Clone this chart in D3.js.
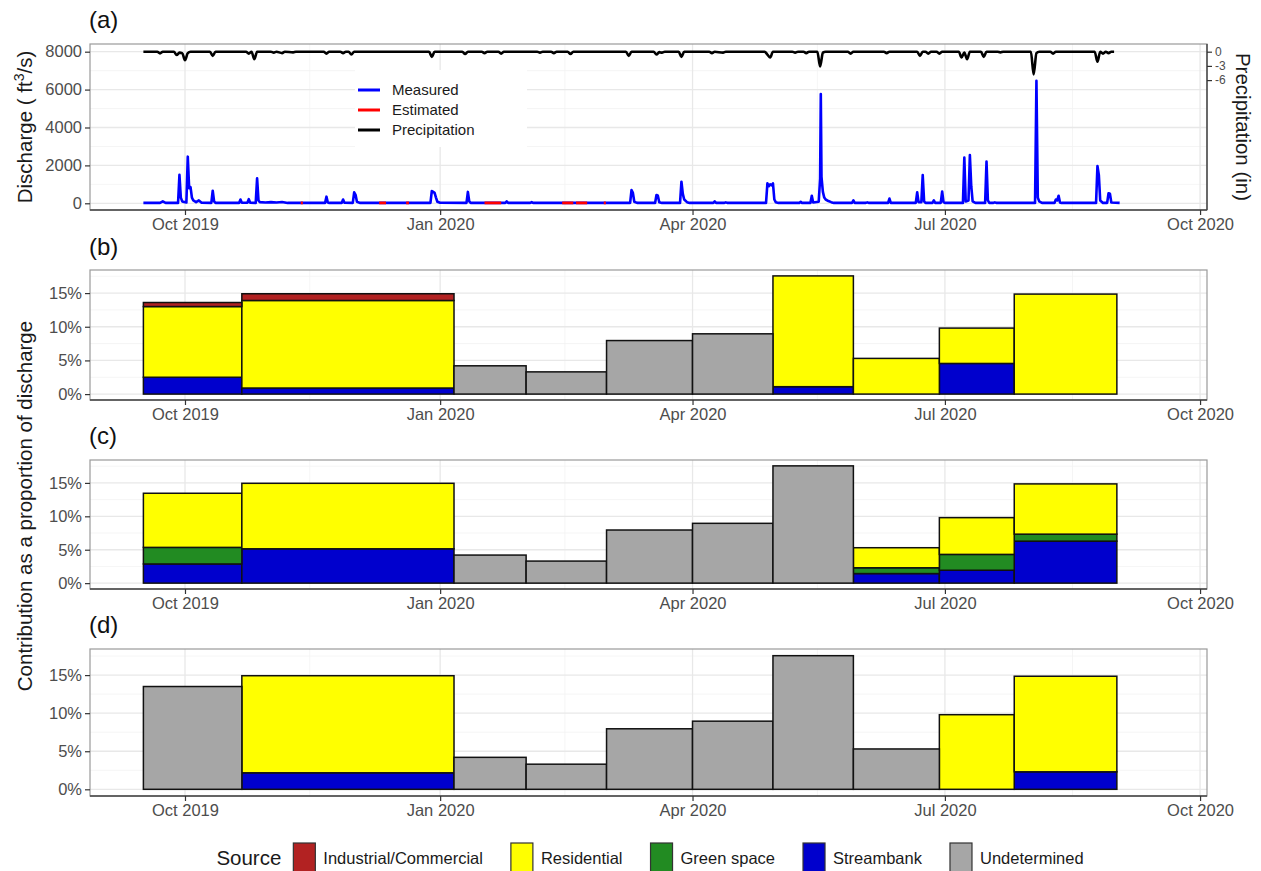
<!DOCTYPE html>
<html><head><meta charset="utf-8">
<script src="https://cdn.jsdelivr.net/npm/d3@7"></script>
<style>body{margin:0;background:#fff}svg{display:block;font-family:"Liberation Sans",Arial,Helvetica,sans-serif}</style>
</head><body><svg id="chart" width="1261" height="871"></svg>
<script>
// ---------------- DATA ----------------
const xTickDates = ["2019-10-01","2020-01-01","2020-04-01","2020-07-01","2020-10-01"];
const xTickLabels = ["Oct 2019","Jan 2020","Apr 2020","Jul 2020","Oct 2020"];
const xMinorDates = ["2019-11-15","2020-02-15","2020-05-16","2020-08-16"];
const dischargeTicks = [0,2000,4000,6000,8000];
const precipTicks = [0,-3,-6];
const pctTicks = [0,5,10,15];
const seriesNames = ["Measured","Estimated","Precipitation"];
const seriesColors = ["#0000ff","#ff0000","#000000"];

// Discharge, measured (ft3/s): [date, value]
const dischargeMeasured = [
["2019-09-16",20],["2019-09-22",20],["2019-09-23",100],["2019-09-24",20],
["2019-09-28 12",20],["2019-09-29",1500],["2019-09-29 12",300],["2019-09-30",100],["2019-10-01 12",40],
["2019-10-02",2460],["2019-10-02 12",800],["2019-10-03",850],["2019-10-03 12",300],["2019-10-04",150],
["2019-10-05",60],["2019-10-06",150],["2019-10-07",30],
["2019-10-10 12",20],["2019-10-11",665],["2019-10-11 12",100],["2019-10-12",20],
["2019-10-20 12",20],["2019-10-21",200],["2019-10-21 12",30],["2019-10-23 12",30],["2019-10-24",220],["2019-10-24 12",30],
["2019-10-26 12",20],["2019-10-27",1320],["2019-10-27 12",150],["2019-10-28",60],["2019-10-30",40],["2019-11-01",60],
["2019-11-03",40],["2019-11-05",70],["2019-11-07",20],
["2019-11-20 12",20],["2019-11-21",350],["2019-11-21 12",40],["2019-11-22",20],
["2019-11-26 12",20],["2019-11-27",200],["2019-11-27 12",30],["2019-11-30 12",20],["2019-12-01",580],["2019-12-01 12",450],
["2019-12-02",80],["2019-12-03",20],
["2019-12-28 12",20],["2019-12-29",650],["2019-12-29 12",600],["2019-12-30",550],["2019-12-30 12",300],["2019-12-31",80],["2020-01-01",30],
["2020-01-10 12",20],["2020-01-11",600],["2020-01-11 12",100],["2020-01-12",20],
["2020-01-24 12",20],["2020-01-25",100],["2020-01-25 12",20],
["2020-02-02 12",20],["2020-02-03",60],["2020-02-03 12",20],
["2020-03-09 12",20],["2020-03-10",700],["2020-03-10 12",550],["2020-03-11",80],["2020-03-12",20],
["2020-03-18 12",20],["2020-03-19",440],["2020-03-19 12",400],["2020-03-20",60],["2020-03-21",20],
["2020-03-27 12",20],["2020-03-28",1140],["2020-03-28 12",500],["2020-03-29",200],["2020-03-30",60],["2020-03-31",20],
["2020-04-08 12",20],["2020-04-09",100],["2020-04-09 12",20],["2020-04-12 12",20],["2020-04-13",50],["2020-04-13 12",20],
["2020-04-27 12",20],["2020-04-28",1050],["2020-04-28 12",900],["2020-04-29",1000],["2020-04-29 12",950],["2020-04-30",1050],
["2020-04-30 12",200],["2020-05-01",60],["2020-05-02",20],
["2020-05-09 12",20],["2020-05-10",80],["2020-05-10 12",20],["2020-05-13 12",20],["2020-05-14",400],["2020-05-14 12",40],
["2020-05-16 12",80],["2020-05-17",1300],["2020-05-17 06",5770],["2020-05-17 12",1400],["2020-05-18",600],["2020-05-18 12",300],
["2020-05-19",200],["2020-05-20",120],["2020-05-21",60],["2020-05-22",20],
["2020-05-28 12",20],["2020-05-29",150],["2020-05-29 12",20],
["2020-06-02 12",20],["2020-06-03",50],["2020-06-03 12",20],
["2020-06-10 12",20],["2020-06-11",250],["2020-06-11 12",20],
["2020-06-20 12",20],["2020-06-21",580],["2020-06-21 12",60],["2020-06-22 12",60],["2020-06-23",1495],["2020-06-23 12",100],["2020-06-24",20],
["2020-06-26 12",20],["2020-06-27",150],["2020-06-27 12",20],["2020-06-29 12",20],["2020-06-30",620],["2020-06-30 12",60],["2020-07-01",20],
["2020-07-07 12",20],["2020-07-08",2410],["2020-07-08 12",100],["2020-07-09 12",150],["2020-07-10",2550],["2020-07-10 12",900],
["2020-07-11",100],["2020-07-12",20],
["2020-07-15 12",20],["2020-07-16",2200],["2020-07-16 12",150],["2020-07-17",20],
["2020-07-18 12",20],["2020-07-19",50],["2020-07-19 12",20],
["2020-08-02 12",20],["2020-08-03",6470],["2020-08-03 12",300],["2020-08-04",100],["2020-08-05",20],
["2020-08-09 12",20],["2020-08-10",200],["2020-08-10 12",150],["2020-08-11",400],["2020-08-11 12",40],["2020-08-12",20],
["2020-08-24 12",20],["2020-08-25",1970],["2020-08-25 12",1500],["2020-08-26",150],["2020-08-27",20],
["2020-08-28 12",20],["2020-08-29",530],["2020-08-29 12",500],["2020-08-30",40],["2020-09-02",20]
];

// Discharge, estimated segments (ft3/s)
const dischargeEstimated = [
[["2019-11-11 18",20],["2019-11-12 12",20]],
[["2019-12-10",20],["2019-12-12 12",20]],
[["2019-12-19 18",20],["2019-12-20 18",20]],
[["2020-01-17",20],["2020-01-23",20]],
[["2020-02-14",20],["2020-02-18",20]],
[["2020-02-19",20],["2020-02-23",20]],
[["2020-02-29",20],["2020-02-29 18",20]]
];

// Precipitation (in), plotted downward
const precipitation = [
["2019-09-16",0],["2019-09-21",0],["2019-09-22",-0.35],["2019-09-23",0],["2019-09-27",0],["2019-09-28",-0.7],["2019-09-29",-0.2],
["2019-09-30",-0.3],["2019-10-01",-1.8],["2019-10-02",-0.3],["2019-10-03",0],["2019-10-10",0],["2019-10-11",-0.9],["2019-10-12",0],
["2019-10-23",0],["2019-10-24",-0.4],["2019-10-25",0],["2019-10-26",-1.6],["2019-10-27",0],["2019-11-01",0],["2019-11-02",-0.2],
["2019-11-03",0],["2019-11-05",-0.3],["2019-11-06",0],["2019-11-09",-0.15],["2019-11-10",0],["2019-11-20",0],["2019-11-21",-0.4],
["2019-11-22",0],["2019-11-26",0],["2019-11-27",-0.3],["2019-11-28",0],["2019-11-29",0],["2019-11-30",-0.6],["2019-12-01",0],
["2019-12-28",0],["2019-12-29",-1.1],["2019-12-30",0],["2020-01-09",0],["2020-01-10",-0.5],["2020-01-11",0],["2020-01-16",0],
["2020-01-17",-0.3],["2020-01-18",0],["2020-01-22",0],["2020-01-23",-0.4],["2020-01-24",0],["2020-02-05",0],["2020-02-06",-0.2],
["2020-02-07",0],["2020-02-10",0],["2020-02-11",-0.3],["2020-02-12",0],["2020-02-16",0],["2020-02-17",-0.5],["2020-02-18",0],
["2020-03-08",0],["2020-03-09",-0.9],["2020-03-10",0],["2020-03-18",0],["2020-03-19",-0.6],["2020-03-20",-0.1],["2020-03-21",-0.2],
["2020-03-22",0],["2020-03-27",0],["2020-03-28",-1.1],["2020-03-29",0],["2020-04-07",0],["2020-04-08",-0.3],["2020-04-09",0],
["2020-04-12",-0.2],["2020-04-13",0],["2020-04-27",0],["2020-04-28",-0.6],["2020-04-29",-1.2],["2020-04-30",0],["2020-05-07",0],
["2020-05-08",-0.2],["2020-05-09",0],["2020-05-11",0],["2020-05-12",-0.3],["2020-05-13",0],["2020-05-16",0],["2020-05-17",-3.1],
["2020-05-18",-0.2],["2020-05-19",0],["2020-05-27",0],["2020-05-28",-0.4],["2020-05-29",0],["2020-06-09",0],["2020-06-10",-0.3],
["2020-06-11",0],["2020-06-21",0],["2020-06-22",-0.9],["2020-06-23",0],["2020-06-24",0],["2020-06-25",-0.4],["2020-06-26",0],
["2020-06-28",0],["2020-06-29",-0.4],["2020-06-30",0],["2020-07-06",0],["2020-07-07",-1.2],["2020-07-08",-0.2],["2020-07-09",-1.6],
["2020-07-10",0],["2020-07-14",0],["2020-07-15",-1.1],["2020-07-16",0],["2020-07-20",0],["2020-07-21",-0.15],["2020-07-22",0],
["2020-08-01",0],["2020-08-02",-4.8],["2020-08-03",-0.3],["2020-08-04",0],["2020-08-08",0],["2020-08-09",-0.4],["2020-08-10",0],
["2020-08-24",0],["2020-08-25",-2.1],["2020-08-26",0],["2020-08-27",-0.4],["2020-08-28",0],["2020-08-29",-0.3],["2020-08-30",0],["2020-08-31",0]
];

// Sampling periods (bar edges)
const periodEdges = ["2019-09-16","2019-10-21 12","2020-01-06","2020-02-01","2020-03-01","2020-04-01","2020-04-30","2020-05-29","2020-06-29","2020-07-26","2020-09-01"];

const sources = ["Industrial/Commercial","Residential","Green space","Streambank","Undetermined"];
const sourceColors = ["#b22222","#ffff00","#228b22","#0000cd","#a6a6a6"];

// Panel (b) contributions (%)
const bStreambank   = [2.5, 0.9, 0, 0, 0, 0, 1.1, 0, 4.55, 0];
const bGreen        = [0, 0, 0, 0, 0, 0, 0, 0, 0, 0];
const bResidential  = [10.5, 13.0, 0, 0, 0, 0, 16.45, 5.3, 5.25, 14.85];
const bIndustrial   = [0.6, 1.0, 0, 0, 0, 0, 0, 0, 0, 0];
const bUndetermined = [0, 0, 4.2, 3.3, 7.95, 8.95, 0, 0, 0, 0];
// Panel (c)
const cStreambank   = [2.87, 5.14, 0, 0, 0, 0, 0, 1.43, 1.93, 6.28];
const cGreen        = [2.48, 0, 0, 0, 0, 0, 0, 0.87, 2.37, 1.05];
const cResidential  = [8.1, 9.8, 0, 0, 0, 0, 0, 3.0, 5.5, 7.52];
const cIndustrial   = [0, 0, 0, 0, 0, 0, 0, 0, 0, 0];
const cUndetermined = [0, 0, 4.2, 3.3, 7.95, 8.95, 17.55, 0, 0, 0];
// Panel (d)
const dStreambank   = [0, 2.17, 0, 0, 0, 0, 0, 0, 0, 2.3];
const dGreen        = [0, 0, 0, 0, 0, 0, 0, 0, 0, 0];
const dResidential  = [0, 12.75, 0, 0, 0, 0, 0, 0, 9.8, 12.55];
const dIndustrial   = [0, 0, 0, 0, 0, 0, 0, 0, 0, 0];
const dUndetermined = [13.5, 0, 4.2, 3.3, 7.95, 8.95, 17.55, 5.3, 0, 0];

// ---------------- DRAWING ----------------
const FONT_TICK = 16.5, FONT_TITLE = 20.5;
const tickCol = "#4d4d4d";
const p1 = d3.utcParse("%Y-%m-%d"), p2 = d3.utcParse("%Y-%m-%d %H");
const parse = s => s.length > 10 ? p2(s) : p1(s);

const svg = d3.select("#chart");
svg.append("rect").attr("width",1261).attr("height",871).attr("fill","#fff");

const L = 90, R = 1207;
const x = d3.scaleUtc().domain([Date.UTC(2019,7,27,18), Date.UTC(2020,9,3,12)]).range([L, R]);

function frame(top, bottom, y, majors, minors) {
  const g = svg.append("g");
  g.append("rect").attr("x",L).attr("y",top).attr("width",R-L).attr("height",bottom-top).attr("fill","#fff");
  g.selectAll(null).data(minors).join("line")
    .attr("x1",L).attr("x2",R).attr("y1",d=>y(d)).attr("y2",d=>y(d))
    .attr("stroke","#f3f3f3").attr("stroke-width",0.8);
  g.selectAll(null).data(xMinorDates.map(parse)).join("line")
    .attr("x1",d=>x(d)).attr("x2",d=>x(d)).attr("y1",top).attr("y2",bottom)
    .attr("stroke","#f3f3f3").attr("stroke-width",0.8);
  g.selectAll(null).data(majors).join("line")
    .attr("x1",L).attr("x2",R).attr("y1",d=>y(d)).attr("y2",d=>y(d))
    .attr("stroke","#e8e8e8").attr("stroke-width",1.3);
  g.selectAll(null).data(xTickDates.map(parse)).join("line")
    .attr("x1",d=>x(d)).attr("x2",d=>x(d)).attr("y1",top).attr("y2",bottom)
    .attr("stroke","#e8e8e8").attr("stroke-width",1.3);
  return g;
}

function axes(top, bottom, y, majors, fmt, rightDark) {
  const g = svg.append("g");
  g.append("rect").attr("x",L).attr("y",top).attr("width",R-L).attr("height",bottom-top)
    .attr("fill","none").attr("stroke","#9a9a9a").attr("stroke-width",1.2);
  g.append("line").attr("x1",L).attr("x2",R).attr("y1",bottom).attr("y2",bottom)
    .attr("stroke","#444").attr("stroke-width",1.4);
  if (rightDark) g.append("line").attr("x1",R).attr("x2",R).attr("y1",top).attr("y2",bottom)
    .attr("stroke","#444").attr("stroke-width",1.4);
  const ya = d3.axisLeft(y).tickValues(majors).tickFormat(fmt).tickSize(5).tickPadding(3);
  const gy = g.append("g").attr("transform",`translate(${L},0)`).call(ya);
  gy.select(".domain").remove();
  gy.selectAll(".tick line").attr("stroke","#333").attr("stroke-width",1.2);
  gy.selectAll(".tick text").attr("fill",tickCol).style("font-size",FONT_TICK+"px").style("font-family","'Liberation Sans',Arial,sans-serif");
  const xa = d3.axisBottom(x).tickValues(xTickDates.map(parse)).tickFormat((d,i)=>xTickLabels[i]).tickSize(5).tickPadding(3);
  const gx = g.append("g").attr("transform",`translate(0,${bottom})`).call(xa);
  gx.select(".domain").remove();
  gx.selectAll(".tick line").attr("stroke","#333").attr("stroke-width",1.2);
  gx.selectAll(".tick text").attr("fill",tickCol).style("font-size",FONT_TICK+"px").style("font-family","'Liberation Sans',Arial,sans-serif");
  return g;
}

// ---- Panel (a) ----
const aTop = 44, aBot = 210;
const yA = d3.scaleLinear().domain([-354, 8406]).range([aBot, aTop]);
const PRECIP_OFFSET = 8000, PRECIP_MULT = 250;
const yP = d3.scaleLinear().domain(yA.domain().map(v => (v - PRECIP_OFFSET)/PRECIP_MULT)).range([aBot, aTop]);
frame(aTop, aBot, yA, dischargeTicks, [1000,3000,5000,7000]);

const gA = svg.append("g");
const clipA = svg.append("clipPath").attr("id","clipA");
clipA.append("rect").attr("x",L).attr("y",aTop).attr("width",R-L).attr("height",aBot-aTop);
gA.attr("clip-path","url(#clipA)");

const lineA = d3.line().x(d=>x(parse(d[0]))).y(d=>yA(d[1]));
gA.append("path").datum(dischargeMeasured).attr("d",lineA)
  .attr("fill","none").attr("stroke",seriesColors[0]).attr("stroke-width",2.6).attr("stroke-linejoin","round");
gA.selectAll(null).data(dischargeEstimated).join("path").attr("d",lineA)
  .attr("fill","none").attr("stroke",seriesColors[1]).attr("stroke-width",2.8);
const lineP = d3.line().x(d=>x(parse(d[0]))).y(d=>yP(d[1])).curve(d3.curveMonotoneX);
gA.append("path").datum(precipitation).attr("d",lineP)
  .attr("fill","none").attr("stroke",seriesColors[2]).attr("stroke-width",2.6).attr("stroke-linejoin","round");

// panel a legend
const lg = svg.append("g");
lg.append("rect").attr("x",355).attr("y",70).attr("width",172).attr("height",77).attr("fill","#fff");
seriesNames.forEach((s,i)=>{
  const yy = 90 + i*20;
  lg.append("line").attr("x1",358).attr("x2",380).attr("y1",yy).attr("y2",yy)
    .attr("stroke",seriesColors[i]).attr("stroke-width",3);
  lg.append("text").attr("x",392).attr("y",yy).attr("dy","0.35em").text(s)
    .style("font-size","15px").attr("fill","#1a1a1a");
});

axes(aTop, aBot, yA, dischargeTicks, d=>d, true);
// right precipitation axis
const gPr = svg.append("g").attr("transform",`translate(${R},0)`)
  .call(d3.axisRight(yP).tickValues(precipTicks).tickFormat(d=>d).tickSize(5).tickPadding(3));
gPr.select(".domain").remove();
gPr.selectAll(".tick line").attr("stroke","#333").attr("stroke-width",1.2);
gPr.selectAll(".tick text").attr("fill",tickCol).style("font-size","12px").style("font-family","'Liberation Sans',Arial,sans-serif");

// axis titles (a)
const tA = svg.append("text").attr("transform",`translate(32,${(aTop+aBot)/2}) rotate(-90)`)
  .attr("text-anchor","middle").style("font-size",FONT_TITLE+"px").attr("fill","#1a1a1a");
tA.append("tspan").text("Discharge ( ft");
tA.append("tspan").text("3").attr("baseline-shift","super").style("font-size","14px");
tA.append("tspan").text("/s)");
svg.append("text").attr("transform",`translate(1236,${(aTop+aBot)/2}) rotate(90)`)
  .attr("text-anchor","middle").style("font-size",FONT_TITLE+"px").attr("fill","#1a1a1a")
  .text("Precipitation (in)");

// ---- Bar panels ----
const stackKeys = ["Streambank","Green space","Residential","Industrial/Commercial","Undetermined"];
function barPanel(top, bottom, sb, gr, rs, ind, und) {
  const rows = sb.map((v,i)=>({
    start: parse(periodEdges[i]), end: parse(periodEdges[i+1]),
    "Streambank": v, "Green space": gr[i], "Residential": rs[i], "Industrial/Commercial": ind[i], "Undetermined": und[i]
  }));
  const stacked = d3.stack().keys(stackKeys)(rows);
  const maxV = d3.max(stacked[stacked.length-1], d=>d[1]);
  const y = d3.scaleLinear().domain([-0.05*maxV, 1.05*maxV]).range([bottom, top]);
  frame(top, bottom, y, pctTicks, [2.5,7.5,12.5,17.5]);
  const g = svg.append("g");
  stacked.forEach(layer=>{
    const col = sourceColors[sources.indexOf(layer.key)];
    g.selectAll(null).data(layer.filter(d=>d[1]-d[0] > 0.001)).join("rect")
      .attr("x",d=>x(d.data.start)).attr("width",d=>x(d.data.end)-x(d.data.start))
      .attr("y",d=>y(d[1])).attr("height",d=>y(d[0])-y(d[1]))
      .attr("fill",col).attr("stroke","#111").attr("stroke-width",1.5);
  });
  axes(top, bottom, y, pctTicks, d=>d+"%", false);
}
barPanel(270, 400, bStreambank, bGreen, bResidential, bIndustrial, bUndetermined);
barPanel(460, 589, cStreambank, cGreen, cResidential, cIndustrial, cUndetermined);
barPanel(649, 796, dStreambank, dGreen, dResidential, dIndustrial, dUndetermined);

// shared y title
svg.append("text").attr("transform",`translate(32,506) rotate(-90)`)
  .attr("text-anchor","middle").style("font-size",FONT_TITLE+"px").attr("fill","#1a1a1a")
  .text("Contribution as a proportion of discharge");

// panel tags
[["(a)",28],["(b)",255],["(c)",444],["(d)",633]].forEach(([t,yy])=>{
  svg.append("text").attr("x",89).attr("y",yy).text(t).style("font-size","24px").attr("fill","#111");
});

// bottom legend
const leg = svg.append("g");
const title = leg.append("text").attr("x",0).attr("y",858).attr("dy","0.35em").text("Source")
  .style("font-size",FONT_TITLE+"px").attr("fill","#1a1a1a");
let cx = title.node().getComputedTextLength() + 12;
sources.forEach((s,i)=>{
  leg.append("rect").attr("x",cx).attr("y",843).attr("width",22).attr("height",30)
    .attr("fill",sourceColors[i]).attr("stroke","#333").attr("stroke-width",1.2);
  cx += 22 + 8;
  const t = leg.append("text").attr("x",cx).attr("y",858).attr("dy","0.35em").text(s)
    .style("font-size",FONT_TICK+"px").attr("fill","#1a1a1a");
  cx += t.node().getComputedTextLength() + 28;
});
const totalW = cx - 28;
leg.attr("transform",`translate(${650 - totalW/2},0)`);
</script></body></html>
